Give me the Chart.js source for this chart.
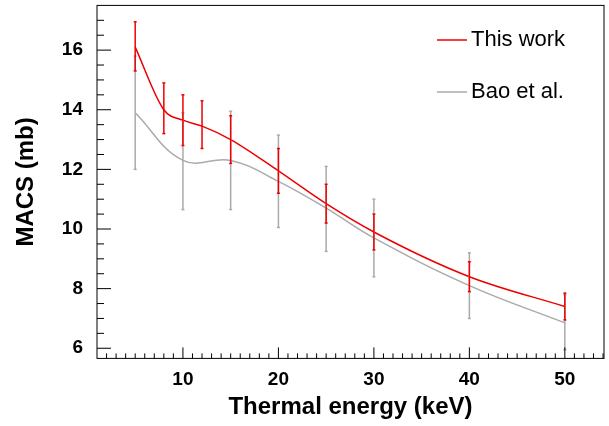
<!DOCTYPE html>
<html><head><meta charset="utf-8">
<script src="https://cdn.jsdelivr.net/npm/chart.js@4/dist/chart.umd.min.js"></script>
<style>body{margin:0;background:#fff;overflow:hidden}#w{width:609px;height:438px;margin-top:-12px}</style>
</head><body><div id="w"><canvas id="c"></canvas></div>
<script>
const redX=[5,8,10,12,15,20,25,30,40,50];
const redY=[16.1,14.0,13.65,13.45,13.0,11.95,10.85,9.9,8.4,7.4];
const redLo=[15.3,13.2,12.8,12.7,12.2,11.2,10.2,9.3,7.9,6.95];
const redHi=[16.95,14.9,14.5,14.3,13.8,12.7,11.5,10.5,8.9,7.85];
const grayX=[5,10,15,20,25,30,40,50];
const grayY=[13.9,12.3,12.3,11.6,10.7,9.7,8.1,6.85];
const grayLo=[12.0,10.65,10.65,10.05,9.25,8.4,7.0,5.95];
const grayHi=[15.8,13.9,13.95,13.15,12.1,11.0,9.2,7.8];
const labels=["This work","Bao et al."];
const mk=(xs,ys)=>xs.map((x,i)=>({x,y:ys[i]}));
const errPlugin={id:'err',afterDatasetsDraw(ch){
 const c=ch.ctx,xs=ch.scales.x,ys=ch.scales.y;
 const draw=(X,lo,hi,col)=>{c.save();c.strokeStyle=col;c.lineWidth=1.5;
  X.forEach((x,i)=>{const px=xs.getPixelForValue(x);c.beginPath();c.moveTo(px,ys.getPixelForValue(lo[i]));c.lineTo(px,ys.getPixelForValue(hi[i]));c.stroke();
   [lo[i],hi[i]].forEach(v=>{const py=ys.getPixelForValue(v);c.beginPath();c.moveTo(px-1.5,py);c.lineTo(px+1.5,py);c.stroke();});});c.restore();};
 draw(grayX,grayLo,grayHi,'#aaaaaa');draw(redX,redLo,redHi,'#ee0000');
 const a=ch.chartArea;c.save();c.strokeStyle='#000';c.lineWidth=1;c.strokeRect(a.left,a.top,a.right-a.left,a.bottom-a.top);
 for(let v=2;v<=54;v++){const px=xs.getPixelForValue(v);const L=v%10==0?11:5;c.beginPath();c.moveTo(px,a.bottom);c.lineTo(px,a.bottom-L);c.stroke();}
 for(let v=6;v<=17.4;v+=0.5){const py=ys.getPixelForValue(v);const L=Math.abs(v%2)<1e-6?14:7;c.beginPath();c.moveTo(a.left,py);c.lineTo(a.left+L,py);c.stroke();}
 c.font='22px Liberation Sans, Arial';c.fillStyle='#000';c.textBaseline='middle';
 [['#ee0000',labels[0],52],['#aaaaaa',labels[1],104]].forEach(([col,t,y])=>{c.strokeStyle=col;c.lineWidth=1.5;c.beginPath();c.moveTo(437,y);c.lineTo(467,y);c.stroke();c.fillText(t,471,y);});
 c.restore();}};
new Chart(document.getElementById('c'),{type:'scatter',
data:{datasets:[
 {data:mk(redX,redY),showLine:true,borderColor:'#ee0000',borderWidth:1.5,pointRadius:0,cubicInterpolationMode:'monotone'},
 {data:mk(grayX,grayY),showLine:true,borderColor:'#aaaaaa',borderWidth:1.5,pointRadius:0,tension:0.4}]},
options:{animation:false,responsive:true,maintainAspectRatio:false,
 layout:{padding:{top:0,right:5,left:8}},
 plugins:{legend:{display:false},tooltip:{enabled:false}},
 scales:{
  x:{type:'linear',min:1,max:54.1,afterBuildTicks:s=>{s.ticks=[10,20,30,40,50].map(v=>({value:v}));},
   grid:{display:false},border:{display:false},
   ticks:{color:'#000',font:{size:19,weight:'bold',family:'Liberation Sans, Arial'},padding:2},
   title:{display:true,text:'Thermal energy (keV)',color:'#000',font:{size:24,weight:'bold',family:'Liberation Sans, Arial'},padding:{top:0}}},
  y:{type:'linear',min:5.66,max:17.5,afterBuildTicks:s=>{s.ticks=[6,8,10,12,14,16].map(v=>({value:v}));},
   afterFit:s=>{s.width=89;},
   grid:{display:false},border:{display:false},
   ticks:{color:'#000',font:{size:19,weight:'bold',family:'Liberation Sans, Arial'},padding:6},
   title:{display:true,text:'MACS (mb)',color:'#000',font:{size:24,weight:'bold',family:'Liberation Sans, Arial'}}}}},
plugins:[errPlugin]});
</script></body></html>
